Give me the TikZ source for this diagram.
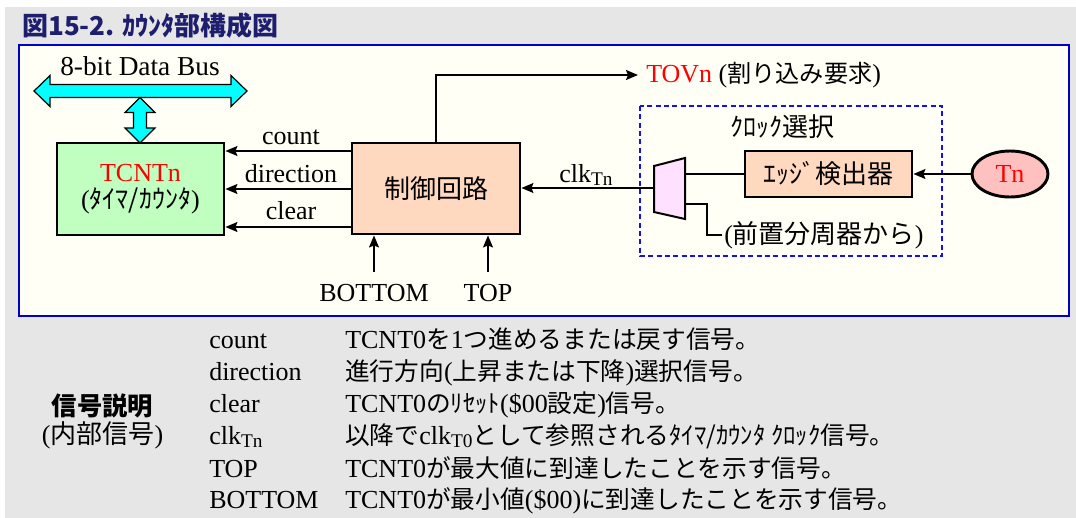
\documentclass[tikz,border=0pt]{standalone}
\usepackage{fontspec}
\setmainfont{Liberation Serif}
\newfontfamily\jp{Noto Sans CJK JP}
\newfontfamily\jpm[Scale=0.93]{Noto Sans CJK JP}
\newfontfamily\jpl[Scale=0.95]{Noto Sans CJK JP}
\newcommand{\JL}[1]{{\jpl #1}}
\newcommand{\bigsz}{\fontsize{19.5}{22}\selectfont}
\usetikzlibrary{shapes.geometric,arrows.meta}
\definecolor{bgc}{HTML}{E6E6E6}
\definecolor{panelc}{HTML}{FFFFF6}
\definecolor{pblue}{HTML}{0000CC}
\definecolor{dblue}{HTML}{1010F0}
\definecolor{busc}{HTML}{00FFFF}
\definecolor{grnc}{HTML}{C0FFC0}
\definecolor{peachc}{HTML}{FFD8C0}
\definecolor{pinkm}{HTML}{FFE0FF}
\definecolor{tnfill}{HTML}{FFC0C0}
\definecolor{navyc}{HTML}{1E1E6E}
\definecolor{redt}{HTML}{FF0000}
\begin{document}
\begin{tikzpicture}[x=0.75pt,y=-0.75pt,
  font=\bigsz,
  arr/.style={line width=1.1pt,-{Stealth[length=9pt,width=7.5pt,inset=1.5pt]}},
  ln/.style={line width=1.1pt},
  blk/.style={draw,line width=2.2pt,inner sep=0pt},
  lbl/.style={anchor=base,inner sep=0pt},
  leg/.style={anchor=base west,inner sep=0pt}]
\useasboundingbox (0,0) rectangle (1076,518);
\fill[white] (0,0) rectangle (1076,518);
\fill[bgc] (5,7) rectangle (1076,518);
% title
\node[anchor=base west,inner sep=0pt,text=navyc,font=\jp\bfseries\fontsize{19.5}{19.5}\selectfont] (title) at (22,35) {図15-2. ｶｳﾝﾀ部構成図};
% panel
\draw[pblue,fill=panelc,line width=1.6pt] (19,45) rectangle (1069,316);
% data bus
\draw[fill=busc,line width=0.9pt] (34,91) -- (50,75.5) -- (50,84.5) -- (231,84.5) -- (231,75.5) -- (247,91) -- (231,106.5) -- (231,97.5) -- (50,97.5) -- (50,106.5) -- cycle;
\draw[fill=busc,line width=0.9pt] (140,97.5) -- (155,112.5) -- (146.5,112.5) -- (146.5,128) -- (155,128) -- (140,143) -- (125,128) -- (133.5,128) -- (133.5,112.5) -- (125,112.5) -- cycle;
\node[lbl,font=\fontsize{20.5}{22}\selectfont] (buslbl) at (140,75) {8-bit Data Bus};
% blocks
\node[blk,fill=grnc,minimum width=125.25pt,minimum height=69pt,align=center,font=\fontsize{19.5}{20}\selectfont] (tcnt) at (140.5,189) {\textcolor{redt}{TCNTn}\\({\jp ﾀｲﾏ/ｶｳﾝﾀ})};
\node[blk,fill=peachc,minimum width=126pt,minimum height=68.25pt,font=\jp\bigsz] (ctrl) at (436,188.5) {制御回路};
\node[blk,fill=peachc,minimum width=125.25pt,minimum height=34.5pt,font=\jp\bigsz] (edge) at (828.5,174) {ｴｯｼﾞ検出器};
\node[ellipse,draw,line width=2.2pt,fill=tnfill,minimum width=57pt,minimum height=34.5pt,inner sep=0pt,text=redt] (tn) at (1010,174) {Tn};
% clock select
\draw[dblue,line width=1.2pt,dash pattern=on 3.75pt off 2.5pt] (640,106) rectangle (942,256);
\node[font=\jp\bigsz] (clksel) at (782,127) {ｸﾛｯｸ選択};
\draw[fill=pinkm,line width=1.5pt] (654,166) -- (685,158) -- (685,219) -- (654,212) -- cycle;
\coordinate (muxin) at (654,188);
\coordinate (muxo1) at (685,174);
\coordinate (muxo2) at (685,204);
\node[anchor=west,inner sep=0pt] (pre) at (724,235) {({\jp 前置分周器から})};
\draw[ln] (muxo1) -- (edge.west |- muxo1);
\draw[ln] (muxo2) -- ++(22,0) |- ([xshift=-1.5pt]pre.west);
\draw[arr] (tn.west) -- (edge.east);
\draw[arr] (muxin) -- (ctrl.east |- muxin);
\node[lbl] (clkl) at (586,182) {clk{\fontsize{14.5}{15}\selectfont\raisebox{-2.5pt}{Tn}}};
% control outputs
\coordinate (ya) at (0,151);
\coordinate (yb) at (0,189);
\coordinate (yc) at (0,227);
\draw[arr] (ctrl.west |- ya) -- (tcnt.east |- ya);
\draw[arr] (ctrl.west |- yb) -- (tcnt.east |- yb);
\draw[arr] (ctrl.west |- yc) -- (tcnt.east |- yc);
\node[lbl] (lcount) at (291,144) {count};
\node[lbl] (ldir) at (291,182) {direction};
\node[lbl] (lclear) at (291,219) {clear};
% TOVn
\node[anchor=west,inner sep=0pt] (tov) at (646,75) {\textcolor{redt}{TOVn} ({\jpm 割り込み要求})};
\draw[arr] (ctrl.north) |- ([xshift=-6pt]tov.west);
% BOTTOM / TOP
\node[lbl] (bot) at (374,301) {BOTTOM};
\node[lbl] (topl) at (488,301) {TOP};
\coordinate (botS) at (374,272);
\coordinate (topS) at (488,272);
\draw[arr] (botS) -- (ctrl.south -| botS);
\draw[arr] (topS) -- (ctrl.south -| topS);
% legend
\node[font=\jp\bfseries\fontsize{19}{19}\selectfont] (sigt) at (102.5,406) {信号説明};
\node (sigs) at (102.5,435) {({\jp 内部信号})};
\node[leg] (n1) at (209,348) {count};
\node[leg] (n2) at (209,380) {direction};
\node[leg] (n3) at (209,412) {clear};
\node[leg] (n4) at (209,444) {clk{\fontsize{14.5}{15}\selectfont\raisebox{-2.5pt}{Tn}}};
\node[leg] (n5) at (209,477) {TOP};
\node[leg] (n6) at (209,508) {BOTTOM};
\node[leg] (d1) at (345,348) {TCNT0\JL{を}1\JL{つ進めるまたは戻す信号。}};
\node[leg] (d2) at (345,380) {\JL{進行方向}(\JL{上昇または下降})\JL{選択信号。}};
\node[leg] (d3) at (345,412) {TCNT0\JL{のﾘｾｯﾄ}(\$00\JL{設定})\JL{信号。}};
\node[leg] (d4) at (345,444) {\JL{以降で}clk{\fontsize{14.5}{15}\selectfont\raisebox{-2.5pt}{T0}}\JL{として参照されるﾀｲﾏ/ｶｳﾝﾀ ｸﾛｯｸ信号。}};
\node[leg] (d5) at (345,477) {TCNT0\JL{が最大値に到達したことを示す信号。}};
\node[leg] (d6) at (345,508) {TCNT0\JL{が最小値}(\$00)\JL{に到達したことを示す信号。}};
\end{tikzpicture}
\end{document}
